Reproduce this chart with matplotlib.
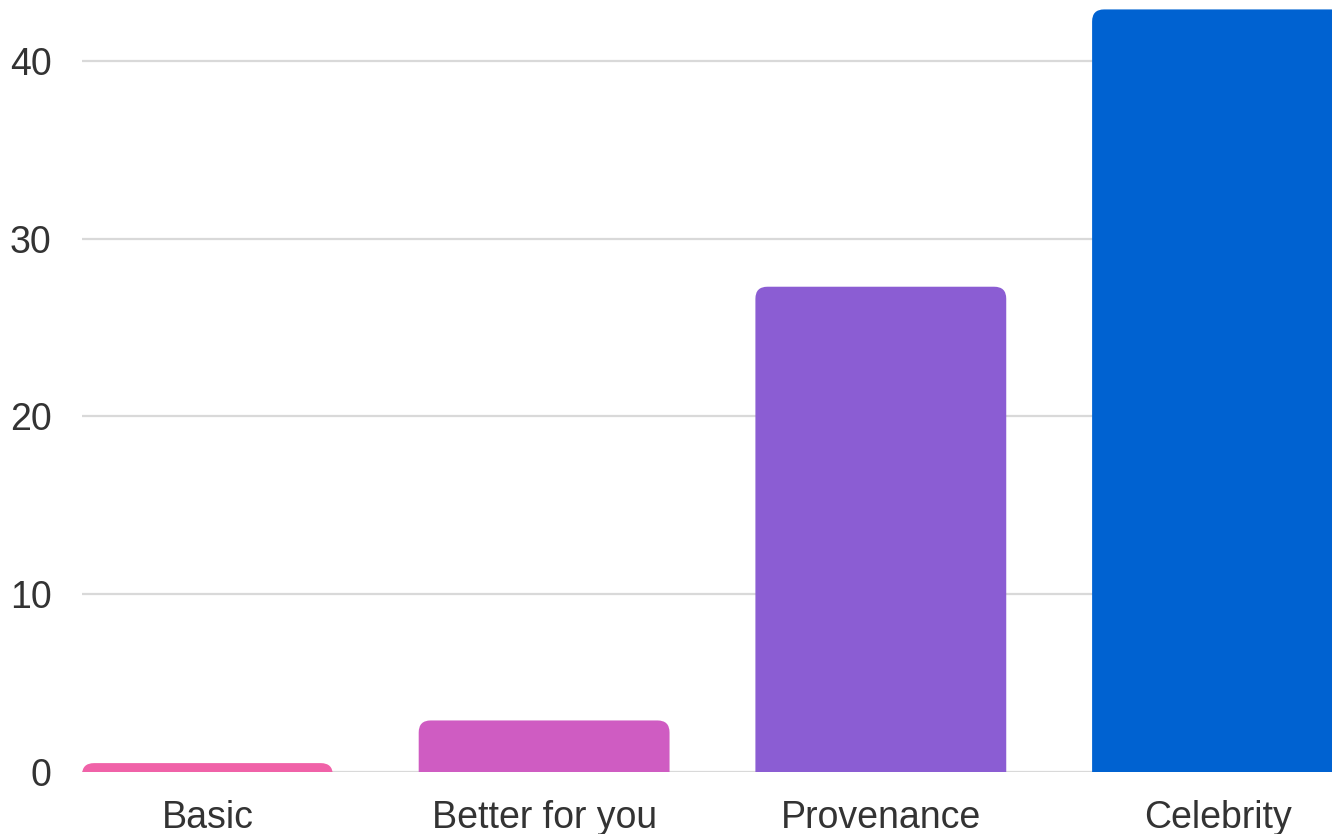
import matplotlib
matplotlib.use("Agg")
import matplotlib.pyplot as plt
from matplotlib.patches import FancyBboxPatch

categories = ["Basic", "Better for you", "Provenance", "Celebrity"]
values = [0.5, 2.9, 27.3, 42.9]
colors = ["#f062a8", "#cf5cc2", "#8b5dd3", "#0062d1"]
yticks = [0, 10, 20, 30, 40]

plt.rcParams['font.family'] = ['Liberation Sans', 'DejaVu Sans']

W, H, DPI = 1332, 834, 100
fig = plt.figure(figsize=(W / DPI, H / DPI), dpi=DPI)
ax = fig.add_axes([82 / W, (H - 772) / H, 1 - 82 / W, 772 / H])

bar_w = 0.745
x = list(range(len(categories)))
ax.set_xlim(-bar_w / 2, 3.34)
ax.set_ylim(0, 43.43)

for s in ax.spines.values():
    s.set_visible(False)

ax.set_yticks(yticks)
ax.set_yticklabels([str(t) for t in yticks])
ax.set_xticks(x)
ax.set_xticklabels(categories)
ax.tick_params(axis='both', length=0, labelsize=27, labelcolor="#333333")
ax.tick_params(axis='y', pad=22)
ax.tick_params(axis='x', pad=20)
ax.yaxis.grid(True, color="#d9d9d9", linewidth=1.6, zorder=0)
ax.set_axisbelow(True)

bars = ax.bar(x, values, width=bar_w, color=colors, zorder=2)

# pixels per data unit
px_x = (W - 82) / (3.34 + bar_w / 2)
px_y = 772 / 43.43
radius_px = 12
r_x = radius_px / px_x
aspect = px_x / px_y

for b, c in zip(bars, colors):
    bx, bw, bh = b.get_x(), b.get_width(), b.get_height()
    b.remove()
    bottom = -1.5
    p = FancyBboxPatch((bx, bottom), bw, bh - bottom,
                       boxstyle=f"round,pad=0,rounding_size={r_x}",
                       mutation_aspect=aspect,
                       facecolor=c, edgecolor="none", zorder=2)
    ax.add_patch(p)

fig.savefig("out.png", dpi=DPI)
